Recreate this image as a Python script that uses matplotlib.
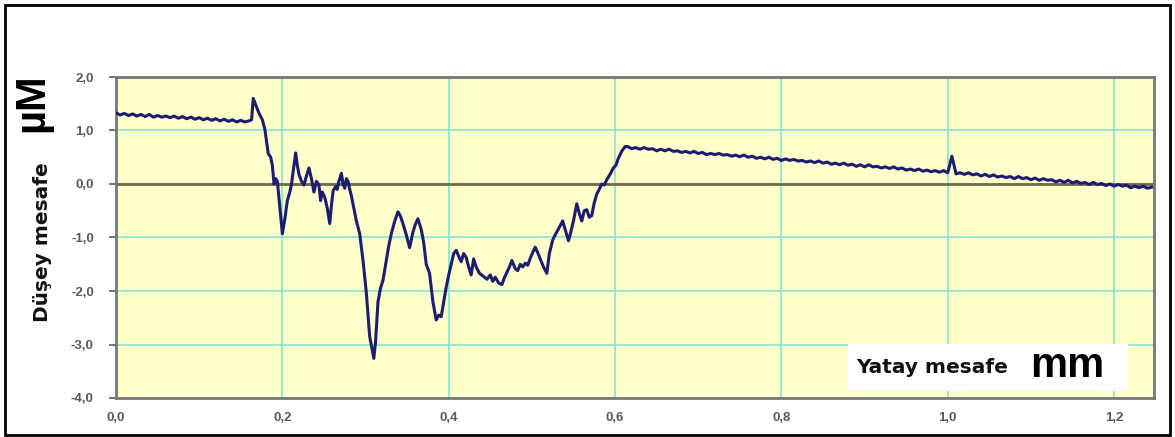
import matplotlib
matplotlib.use("Agg")
import matplotlib.pyplot as plt
from matplotlib.patches import Rectangle

# Surface profile: horizontal distance (mm) vs vertical deviation (µm)
# Flat reference stretch before the scratch
x_flat_left = [0.000, 0.005, 0.010, 0.015, 0.020, 0.025, 0.030, 0.035, 0.040, 0.045,
               0.050, 0.055, 0.060, 0.065, 0.070, 0.075, 0.080, 0.085, 0.090, 0.095,
               0.100, 0.105, 0.110, 0.115, 0.120, 0.125, 0.130, 0.135, 0.140, 0.145,
               0.150, 0.155, 0.160]
y_flat_left = [1.33, 1.29, 1.32, 1.28, 1.31, 1.27, 1.30, 1.26, 1.30, 1.25,
               1.28, 1.25, 1.27, 1.24, 1.27, 1.23, 1.26, 1.22, 1.25, 1.21,
               1.24, 1.20, 1.23, 1.19, 1.22, 1.18, 1.21, 1.17, 1.20, 1.16,
               1.19, 1.16, 1.18]

# Damaged zone
x_rough = [0.163, 0.165, 0.168, 0.172, 0.176, 0.179, 0.183, 0.186, 0.188, 0.190,
           0.192, 0.194, 0.197, 0.200, 0.203, 0.206, 0.209, 0.211, 0.214, 0.216,
           0.218, 0.220, 0.223, 0.226, 0.229, 0.232, 0.235, 0.238, 0.241, 0.244,
           0.246, 0.248, 0.251, 0.254, 0.257, 0.259, 0.261, 0.264, 0.266, 0.268,
           0.271, 0.273, 0.275, 0.277, 0.279, 0.281, 0.283, 0.286, 0.289, 0.293,
           0.297, 0.301, 0.305, 0.308, 0.310, 0.312, 0.315, 0.318, 0.321, 0.325,
           0.328, 0.331, 0.335, 0.339, 0.342, 0.345, 0.349, 0.353, 0.357, 0.360,
           0.363, 0.367, 0.370, 0.373, 0.377, 0.381, 0.385, 0.388, 0.391, 0.394,
           0.397, 0.400, 0.403, 0.406, 0.409, 0.412, 0.415, 0.418, 0.421, 0.424,
           0.427, 0.430, 0.433, 0.437, 0.441, 0.446, 0.450, 0.453, 0.456, 0.460,
           0.464, 0.467, 0.470, 0.473, 0.476, 0.480, 0.483, 0.486, 0.489, 0.492,
           0.495, 0.499, 0.504, 0.507, 0.510, 0.514, 0.518, 0.521, 0.525, 0.528,
           0.531, 0.534, 0.537, 0.541, 0.544, 0.546, 0.550, 0.554, 0.557, 0.560,
           0.563, 0.566, 0.569, 0.572, 0.575, 0.578, 0.581, 0.584, 0.587, 0.590,
           0.594, 0.598, 0.601, 0.604, 0.608, 0.612]
y_rough = [1.20, 1.60, 1.48, 1.32, 1.20, 1.02, 0.57, 0.50, 0.35, 0.00,
           0.10, 0.05, -0.45, -0.93, -0.65, -0.31, -0.15, 0.00, 0.35, 0.58,
           0.35, 0.18, 0.05, -0.02, 0.15, 0.30, 0.10, -0.15, 0.05, -0.02,
           -0.31, -0.15, -0.25, -0.45, -0.74, -0.40, -0.13, -0.05, -0.10, 0.05,
           0.20, 0.00, -0.08, 0.10, 0.05, -0.10, -0.22, -0.45, -0.69, -0.93,
           -1.43, -2.04, -2.85, -3.10, -3.26, -2.96, -2.20, -1.95, -1.80, -1.43,
           -1.15, -0.93, -0.70, -0.52, -0.60, -0.74, -0.95, -1.19, -0.90, -0.75,
           -0.65, -0.85, -1.10, -1.50, -1.67, -2.20, -2.54, -2.45, -2.48, -2.20,
           -1.93, -1.70, -1.50, -1.30, -1.24, -1.35, -1.45, -1.30, -1.37, -1.55,
           -1.70, -1.40, -1.55, -1.67, -1.72, -1.78, -1.70, -1.82, -1.74, -1.85,
           -1.88, -1.75, -1.65, -1.55, -1.43, -1.58, -1.62, -1.50, -1.55, -1.48,
           -1.52, -1.35, -1.18, -1.28, -1.40, -1.55, -1.67, -1.30, -1.05, -0.95,
           -0.87, -0.78, -0.69, -0.90, -1.06, -0.95, -0.69, -0.37, -0.55, -0.69,
           -0.50, -0.48, -0.62, -0.59, -0.35, -0.19, -0.10, 0.00, -0.02, 0.08,
           0.18, 0.30, 0.35, 0.48, 0.61, 0.70]

# Sloping stretch after the scratch
x_flat_right = [0.615, 0.620, 0.625, 0.630, 0.635, 0.640, 0.645, 0.650, 0.655, 0.660,
                0.665, 0.670, 0.675, 0.680, 0.685, 0.690, 0.695, 0.700, 0.705, 0.710,
                0.715, 0.720, 0.725, 0.730, 0.735, 0.740, 0.745, 0.750, 0.755, 0.760,
                0.765, 0.770, 0.775, 0.780, 0.785, 0.790, 0.795, 0.800, 0.805, 0.810,
                0.815, 0.820, 0.825, 0.830, 0.835, 0.840, 0.845, 0.850, 0.855, 0.860,
                0.865, 0.870, 0.875, 0.880, 0.885, 0.890, 0.895, 0.900, 0.905, 0.910,
                0.915, 0.920, 0.925, 0.930, 0.935, 0.940, 0.945, 0.950, 0.955, 0.960,
                0.965, 0.970, 0.975, 0.980, 0.985, 0.990, 0.995, 1.000, 1.005, 1.010,
                1.015, 1.020, 1.025, 1.030, 1.035, 1.040, 1.045, 1.050, 1.055, 1.060,
                1.065, 1.070, 1.075, 1.080, 1.085, 1.090, 1.095, 1.100, 1.105, 1.110,
                1.115, 1.120, 1.125, 1.130, 1.135, 1.140, 1.145, 1.150, 1.155, 1.160,
                1.165, 1.170, 1.175, 1.180, 1.185, 1.190, 1.195, 1.200, 1.205, 1.210,
                1.215, 1.220, 1.225, 1.230, 1.235, 1.240, 1.245]
y_flat_right = [0.70, 0.66, 0.68, 0.65, 0.68, 0.65, 0.66, 0.62, 0.65, 0.62,
                0.65, 0.61, 0.62, 0.59, 0.61, 0.58, 0.61, 0.57, 0.59, 0.55,
                0.57, 0.55, 0.57, 0.54, 0.55, 0.52, 0.54, 0.51, 0.54, 0.50,
                0.52, 0.48, 0.50, 0.47, 0.50, 0.46, 0.48, 0.44, 0.47, 0.44,
                0.46, 0.43, 0.44, 0.41, 0.43, 0.40, 0.43, 0.39, 0.41, 0.37,
                0.39, 0.36, 0.39, 0.35, 0.37, 0.33, 0.36, 0.32, 0.36, 0.32,
                0.33, 0.30, 0.32, 0.29, 0.32, 0.28, 0.30, 0.26, 0.28, 0.25,
                0.28, 0.24, 0.26, 0.23, 0.25, 0.22, 0.25, 0.21, 0.52, 0.19,
                0.21, 0.18, 0.21, 0.17, 0.19, 0.15, 0.18, 0.14, 0.17, 0.13,
                0.15, 0.12, 0.14, 0.10, 0.14, 0.10, 0.12, 0.08, 0.11, 0.07,
                0.10, 0.07, 0.08, 0.04, 0.07, 0.03, 0.07, 0.02, 0.05, 0.01,
                0.03, -0.01, 0.03, -0.01, 0.01, -0.03, 0.00, -0.04, -0.01, -0.04,
                -0.02, -0.07, -0.04, -0.07, -0.04, -0.08, -0.06]

x_ticks = [0.0, 0.2, 0.4, 0.6, 0.8, 1.0, 1.2]
x_tick_labels = ["0,0", "0,2", "0,4", "0,6", "0,8", "1,0", "1,2"]
y_ticks = [-4.0, -3.0, -2.0, -1.0, 0.0, 1.0, 2.0]
y_tick_labels = ["-4,0", "-3,0", "-2,0", "-1,0", "0,0", "1,0", "2,0"]

W, H = 1175, 437
fig = plt.figure(figsize=(W / 100, H / 100), dpi=100)
fig.patch.set_facecolor("white")

ax = fig.add_axes([116 / W, 1 - 398 / H, (1154 - 116) / W, (398 - 77) / H])
ax.set_facecolor("#FFFFCC")
ax.set_xlim(0, 1.248)
ax.set_ylim(-4, 2)

ax.set_xticks(x_ticks)
ax.set_xticklabels(x_tick_labels)
ax.set_yticks(y_ticks)
ax.set_yticklabels(y_tick_labels)
ax.grid(True, color="#88E4D2", lw=1.2)
ax.set_axisbelow(True)
ax.axhline(0, color="#6E6A45", lw=2, zorder=2)

for s in ax.spines.values():
    s.set_color("#787878")
    s.set_linewidth(2)

for lab in ax.get_xticklabels() + ax.get_yticklabels():
    lab.set_fontfamily("Liberation Sans")
    lab.set_fontweight("bold")
    lab.set_fontsize(9.5)
    lab.set_color("#5A5A5A")
ax.tick_params(axis="x", length=0, pad=10)
ax.tick_params(axis="y", length=5, width=1.5, color="#787878", direction="out", pad=11)

ax.plot(x_flat_left + x_rough + x_flat_right,
        y_flat_left + y_rough + y_flat_right,
        color="#1C1C70", lw=2.2, solid_joinstyle="round", zorder=3)

# Frame around the whole figure
fig.patches.append(Rectangle((5 / W, 2 / H), 1165 / W, 430 / H, transform=fig.transFigure,
                             fill=False, ec="black", lw=2))

# Axis titles
fig.text(43 / W, 1 - 242 / H, "Düşey mesafe", rotation=90, ha="center", va="center",
         fontsize=14.5, fontweight="bold", family="DejaVu Sans", color="#111111")
fig.text(32 / W, 1 - 103 / H, "µM", rotation=90, ha="center", va="center",
         fontsize=30, fontweight="bold", family="Liberation Sans", color="black")

fig.patches.append(Rectangle((848 / W, 1 - 391 / H), 280 / W, 47 / H,
                             transform=fig.transFigure, fc="white", ec="none", zorder=5))
fig.text(856 / W, 1 - 373 / H, "Yatay mesafe", ha="left", va="baseline",
         fontsize=14.5, fontweight="bold", family="DejaVu Sans", color="#111111", zorder=6)
fig.text(1030 / W, 1 - 377 / H, "mm", ha="left", va="baseline",
         fontsize=30, fontweight="bold", family="Liberation Sans", color="black", zorder=6)

fig.savefig("out.png", dpi=100)
